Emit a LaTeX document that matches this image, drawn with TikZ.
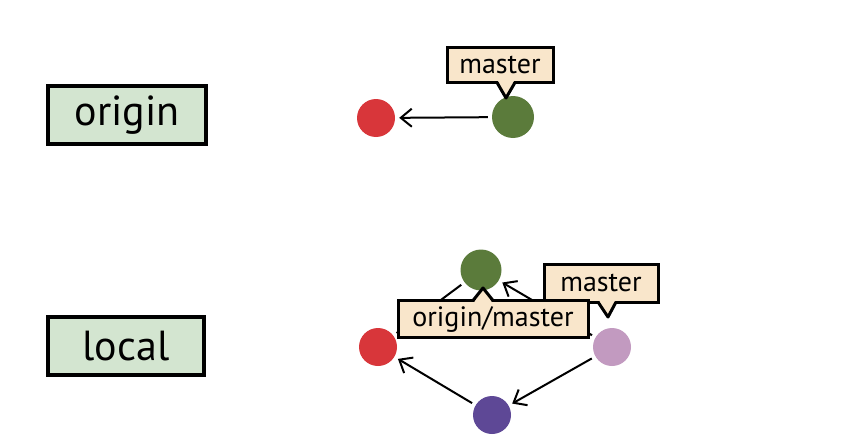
\documentclass[tikz,border=0pt]{standalone}
\usepackage{fontspec}
\setmainfont{PT Sans}
\usetikzlibrary{arrows.meta}
\definecolor{cred}{HTML}{D8363A}
\definecolor{cgreen}{HTML}{5B7B3B}
\definecolor{cpink}{HTML}{C29AC0}
\definecolor{cpurple}{HTML}{5E4896}
\definecolor{boxgreen}{HTML}{D3E5D0}
\definecolor{tagfill}{HTML}{F9E6CB}
\begin{document}
\begin{tikzpicture}[x=1pt,y=-1pt,
  place/.style={draw=black, line width=3.2pt, fill=boxgreen, inner sep=0pt, font=\fontsize{42}{46}\selectfont},
  tag/.style={draw=black, line width=3pt, fill=tagfill, inner sep=0pt, font=\fontsize{28}{32}\selectfont},
  commit/.style={circle, minimum size=38pt, inner sep=0pt},
  arr/.style={-{Straight Barb[length=11pt,width=18pt,line width=2pt]}, line width=2pt, shorten >=4pt, shorten <=4pt},
  plainline/.style={line width=2pt, shorten >=4pt, shorten <=4pt},
  pointer/.style={draw=black, line width=3pt, line join=round}]
\useasboundingbox (0,0) rectangle (844,447);

% place labels
\node[place, minimum width=158pt, minimum height=58pt] (origin) at (127,115) {origin};
\node[place, minimum width=156pt, minimum height=58pt] (local) at (126,346) {local};

% origin commits
\node[commit, fill=cred] (r1) at (376,118) {};
\node[commit, fill=cgreen, minimum size=42pt] (g1) at (513,117) {};
\draw[arr] (g1) -- (r1);

% local commits
\node[commit, fill=cgreen, minimum size=41pt] (g2) at (481,270) {};
\node[commit, fill=cred] (r2) at (378,347) {};
\node[commit, fill=cpink] (p2) at (612,347) {};
\node[commit, fill=cpurple] (u2) at (492,415) {};
\draw[plainline] (g2) -- (r2);
\draw[arr] (p2) -- (g2);
\draw[arr] (p2) -- (u2);
\draw[arr] (u2) -- (r2);

% tag: master (origin)
\node[tag, minimum width=106pt, minimum height=35pt] (m1) at (500,65) {master};
\coordinate (m1tip) at (506,98);
\fill[tagfill] (497,79) -- (m1tip) -- (515,79) -- cycle;
\draw[pointer] (497,82.5) -- (m1tip) -- (515,82.5);

% tag: master (local)
\node[tag, minimum width=114pt, minimum height=38pt] (m2) at (601,283) {master};
\coordinate (m2tip) at (608,317);
\fill[tagfill] (598,299) -- (m2tip) -- (616,299) -- cycle;
\draw[pointer] (598,302) -- (m2tip) -- (616,302);

% tag: origin/master
\node[tag, minimum width=190pt, minimum height=37pt] (om) at (493,319) {origin/master};
\coordinate (omtip) at (483,288);
\fill[tagfill] (473,304) -- (omtip) -- (493,304) -- cycle;
\draw[pointer] (473,300.5) -- (omtip) -- (493,300.5);
\end{tikzpicture}
\end{document}
